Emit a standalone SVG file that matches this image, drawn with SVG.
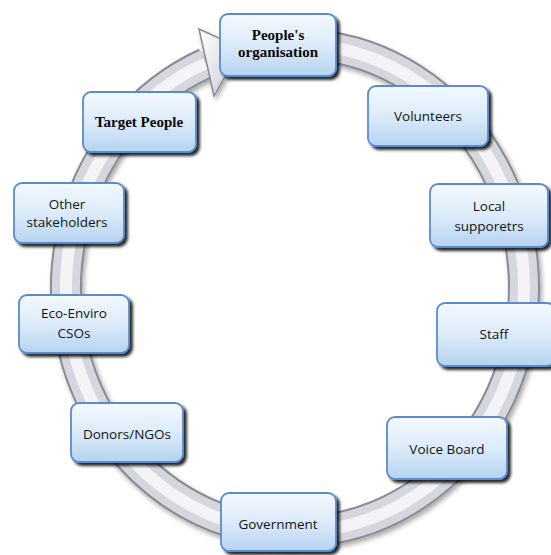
<svg xmlns="http://www.w3.org/2000/svg" width="551" height="555" viewBox="0 0 551 555">
<defs>
  <linearGradient id="boxg" x1="0" y1="0" x2="0" y2="1">
    <stop offset="0" stop-color="#f4f9fe"/>
    <stop offset="0.5" stop-color="#dcebfa"/>
    <stop offset="1" stop-color="#b5d3f1"/>
  </linearGradient>
  <linearGradient id="headg" x1="0" y1="0" x2="1" y2="1">
    <stop offset="0" stop-color="#ffffff"/>
    <stop offset="0.6" stop-color="#dedee6"/>
    <stop offset="1" stop-color="#a8a8b0"/>
  </linearGradient>
  <filter id="sh" x="-20%" y="-20%" width="150%" height="160%">
    <feGaussianBlur in="SourceAlpha" stdDeviation="1.6"/>
    <feOffset dx="3" dy="3" result="b"/>
    <feComponentTransfer><feFuncA type="linear" slope="0.85"/></feComponentTransfer>
    <feMerge><feMergeNode/><feMergeNode in="SourceGraphic"/></feMerge>
  </filter>
  <filter id="rsh" x="-10%" y="-10%" width="120%" height="120%">
    <feGaussianBlur in="SourceAlpha" stdDeviation="2.5"/>
    <feOffset dx="2" dy="3" result="b"/>
    <feComponentTransfer><feFuncA type="linear" slope="0.35"/></feComponentTransfer>
    <feMerge><feMergeNode/><feMergeNode in="SourceGraphic"/></feMerge>
  </filter>
</defs>
<style>
  .box { fill: url(#boxg); stroke: #5a8ccc; stroke-width: 1.8; filter: url(#sh); }
  .t { font-family: "Open Sans", "Noto Sans", "Liberation Sans", sans-serif; font-size: 13.5px; fill: #141414; text-anchor: middle; }
  .tb { font-family: "Liberation Serif", "Times New Roman", serif; font-size: 15px; font-weight: bold; fill: #0a0a0a; text-anchor: middle; }
  .r1 { fill: none; stroke: #8a8a92; stroke-width: 32; }
  .r2 { fill: none; stroke: #d6d6de; stroke-width: 28; }
  .r3 { fill: none; stroke: #f3f3f8; stroke-width: 12; }
</style>
<rect width="551" height="555" fill="#ffffff"/>
<g id="connectors" filter="url(#rsh)">
  <path class="r1" d="M314.96,44.93 A229,244 0 1 1 205.53,63.40"/>
  <path class="r2" d="M314.96,44.93 A229,244 0 1 1 205.53,63.40"/>
  <path class="r3" d="M314.96,44.93 A229,244 0 1 1 205.53,63.40"/>
  <polygon points="199,29 241,48 214,96" fill="url(#headg)" stroke="#8a8a92" stroke-width="1.5" stroke-linejoin="miter"/>
</g>
<g id="n-peoples-organisation">
  <rect class="box" x="220" y="14" width="116" height="62" rx="8"/>
  <text class="tb" x="278" y="40">People's</text>
  <text class="tb" x="278" y="57">organisation</text>
</g>
<g id="n-volunteers">
  <rect class="box" x="368" y="86" width="120" height="60" rx="8"/>
  <text class="t" x="428" y="121">Volunteers</text>
</g>
<g id="n-local-supporters">
  <rect class="box" x="430" y="184" width="118" height="63" rx="8"/>
  <text class="t" x="489" y="211">Local</text>
  <text class="t" x="489" y="231">supporetrs</text>
</g>
<g id="n-staff">
  <rect class="box" x="437" y="303" width="118" height="63" rx="8"/>
  <text class="t" x="494" y="339">Staff</text>
</g>
<g id="n-voice-board">
  <rect class="box" x="387" y="417" width="120" height="62" rx="8"/>
  <text class="t" x="447" y="454">Voice Board</text>
</g>
<g id="n-government">
  <rect class="box" x="221" y="493" width="115" height="58" rx="8"/>
  <text class="t" x="278" y="529">Government</text>
</g>
<g id="n-donors-ngos">
  <rect class="box" x="71" y="403" width="112" height="59" rx="8"/>
  <text class="t" x="127" y="439">Donors/NGOs</text>
</g>
<g id="n-eco-enviro">
  <rect class="box" x="19" y="295" width="110" height="58" rx="8"/>
  <text class="t" x="74" y="318">Eco-Enviro</text>
  <text class="t" x="74" y="338">CSOs</text>
</g>
<g id="n-other-stakeholders">
  <rect class="box" x="14" y="183" width="110" height="60" rx="8"/>
  <text class="t" x="67" y="209">Other</text>
  <text class="t" x="67" y="227">stakeholders</text>
</g>
<g id="n-target-people">
  <rect class="box" x="83" y="92" width="113" height="60" rx="8"/>
  <text class="tb" x="139" y="127">Target People</text>
</g>
</svg>
